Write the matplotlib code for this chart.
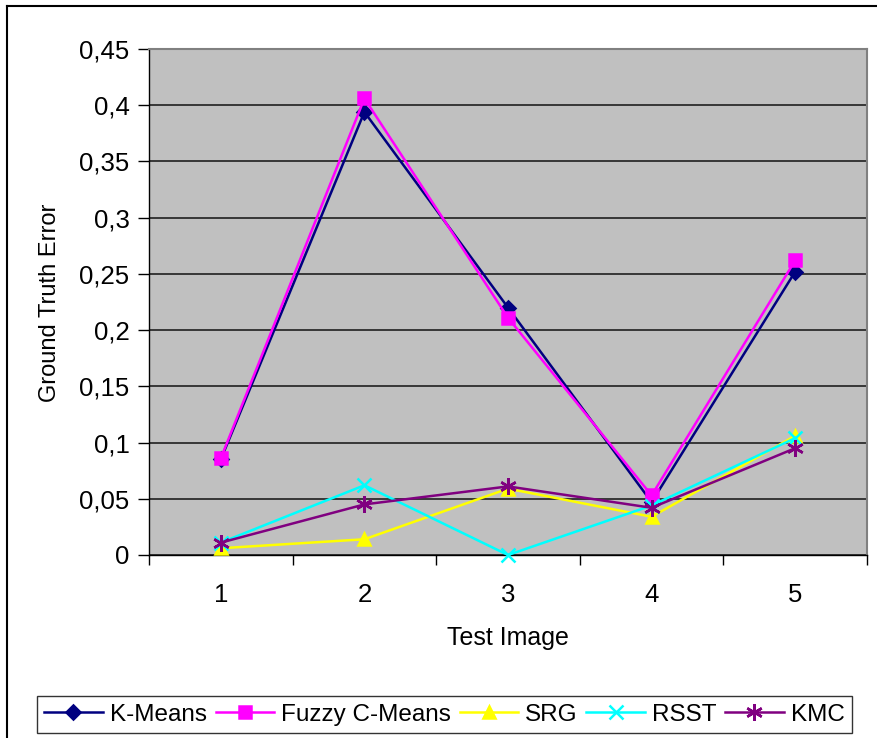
import matplotlib.pyplot as plt
from matplotlib.lines import Line2D
from matplotlib.ticker import FuncFormatter

plt.rcParams['font.family'] = ['Liberation Sans', 'DejaVu Sans']

images = [1, 2, 3, 4, 5]
kmeans = [0.085, 0.394, 0.220, 0.047, 0.252]
fuzzy = [0.086, 0.406, 0.211, 0.053, 0.262]
srg = [0.006, 0.014, 0.059, 0.034, 0.106]
rsst = [0.011, 0.062, 0.000, 0.044, 0.104]
kmc = [0.011, 0.045, 0.061, 0.042, 0.095]

series = [
    ("K-Means", kmeans, "#000080", "D", 7),
    ("Fuzzy C-Means", fuzzy, "#FF00FF", "s", 8),
    ("SRG", srg, "#FFFF00", "^", 9),
    ("RSST", rsst, "#00FFFF", "x", 10),
    ("KMC", kmc, "#800080", (6, 2, 0), 12),
]

fig = plt.figure(figsize=(8.77, 7.38), dpi=100)
ax = fig.add_axes([149 / 877, 1 - 555 / 738, (867 - 149) / 877, (555 - 49) / 738])
ax.set_facecolor("#C0C0C0")

for name, vals, col, mk, ms in series:
    ax.plot(images, vals, color=col, lw=1.8, marker=mk, ms=ms,
            mec=col, mfc=col, mew=1.8, label=name, clip_on=False, zorder=3)

ax.set_xlim(0.5, 5.5)
ax.set_ylim(0, 0.45)
ax.set_yticks([i * 0.05 for i in range(10)])
ax.yaxis.set_major_formatter(FuncFormatter(lambda v, p: ("%g" % round(v, 2)).replace(".", ",")))
ax.yaxis.grid(True, color="#202020", lw=1.2)
ax.set_axisbelow(True)

# ticks at category boundaries, labels centred on categories
ax.set_xticks([0.5, 1.5, 2.5, 3.5, 4.5, 5.5])
ax.set_xticklabels([])
ax.set_xticks(images, minor=True)
ax.set_xticklabels([str(i) for i in images], minor=True)
ax.tick_params(axis="x", which="major", direction="out", length=7, width=1)
ax.tick_params(axis="x", which="minor", length=0, pad=20, labelsize=18.5)
ax.tick_params(axis="y", direction="out", length=8, width=1, pad=6, labelsize=18.5)

for s in ["top", "right"]:
    ax.spines[s].set_color("#808080")
    ax.spines[s].set_linewidth(1.5)
for s in ["left", "bottom"]:
    ax.spines[s].set_color("black")
    ax.spines[s].set_linewidth(1)

fig.text(50 / 877, 1 - 303 / 738, "Ground Truth Error", rotation=90,
         ha="center", va="center", fontsize=17)
fig.text(508 / 877, 1 - 638 / 738, "Test Image", ha="center", va="center", fontsize=18)

leg = fig.legend(loc="lower left", bbox_to_anchor=(37 / 877, 5 / 738, 815 / 877, 45 / 738),
                 mode="expand", ncol=5, fontsize=17.5, frameon=True, fancybox=False,
                 handlelength=2.4, handletextpad=0.3, columnspacing=0.5,
                 borderaxespad=0, borderpad=0.3)
leg.get_frame().set_edgecolor("black")
leg.get_frame().set_linewidth(1)

# outer chart border
fig.add_artist(Line2D([7 / 877, 7 / 877], [0, 1 - 6 / 738], color="black", lw=1.5,
                      transform=fig.transFigure))
fig.add_artist(Line2D([7 / 877, 1], [1 - 6 / 738, 1 - 6 / 738], color="black", lw=1.5,
                      transform=fig.transFigure))

fig.savefig("out.png", dpi=100)
